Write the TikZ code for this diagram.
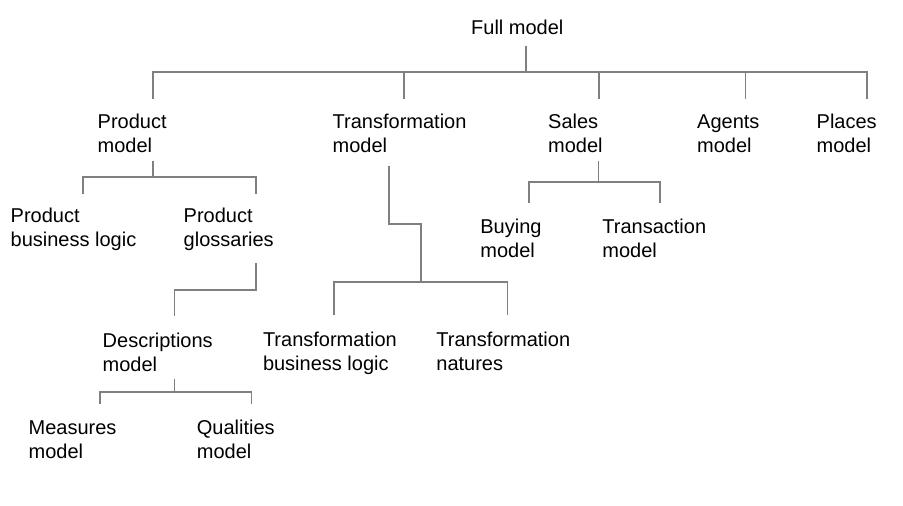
\documentclass[tikz,border=0pt]{standalone}
\usepackage{fontspec}
\setmainfont{Liberation Sans}

\begin{document}
\begin{tikzpicture}[x=1pt, y=-1pt,
          part/.style={anchor=north west, inner sep=0pt, align=left,
                       font=\fontsize{20}{24}\selectfont,
                       execute at begin node={\rule{0pt}{15pt}}},
          link/.style={draw=black!50, line width=1.2pt}
        ]
          \useasboundingbox (0,0) rectangle (903,506);
          % top level
          \node[part] (full)   at (471,19.3)    {Full model};
          \node[part] (prod)   at (97.5,114.3)  {Product\\model};
          \node[part] (trans)  at (332.5,114.3) {Transformation\\model};
          \node[part] (sales)  at (548,114.3)   {Sales\\model};
          \node[part] (agents) at (697,114.3)   {Agents\\model};
          \node[part] (places) at (816.5,114.3) {Places\\model};
          % second level
          \node[part] (pbl)  at (10.5,208.3)  {Product\\business logic};
          \node[part] (pglo) at (183.5,208.3) {Product\\glossaries};
          \node[part] (buy)  at (480.2,218.5) {Buying\\model};
          \node[part] (tx)   at (602.2,218.5) {Transaction\\model};
          \node[part] (desc) at (102.5,333.3) {Descriptions\\model};
          \node[part] (tbl)  at (262.8,332.3) {Transformation\\business logic};
          \node[part] (tn)   at (436.2,332.3) {Transformation\\natures};
          \node[part] (meas) at (28.5,420.3)  {Measures\\model};
          \node[part] (qual) at (196.7,420.3) {Qualities\\model};

          \draw[link] ([xshift=55pt,yshift=-26.7pt]full.north west) -- ++(0,26) -| ([xshift=55.5pt,yshift=15.3pt]prod.north west);
          \draw[link] ([xshift=55pt,yshift=-26.7pt]full.north west) -- ++(0,26) -| ([xshift=71.5pt,yshift=15.3pt]trans.north west);
          \draw[link] ([xshift=55pt,yshift=-26.7pt]full.north west) -- ++(0,26) -| ([xshift=51pt,yshift=15.3pt]sales.north west);
          \draw[link] ([xshift=55pt,yshift=-26.7pt]full.north west) -- ++(0,26) -| ([xshift=48.5pt,yshift=15.3pt]agents.north west);
          \draw[link] ([xshift=55pt,yshift=-26.7pt]full.north west) -- ++(0,26) -| ([xshift=50.5pt,yshift=15.3pt]places.north west);

          \draw[link] ([xshift=55.5pt,yshift=-46.7pt]prod.north west) -- ++(0,16) -| ([xshift=72.5pt,yshift=14.3pt]pbl.north west);
          \draw[link] ([xshift=55.5pt,yshift=-46.7pt]prod.north west) -- ++(0,16) -| ([xshift=72.5pt,yshift=14.3pt]pglo.north west);
          \draw[link] ([xshift=72.5pt,yshift=-54.7pt]pglo.north west) -- ++(0,27) -| ([xshift=72pt,yshift=17.3pt]desc.north west);
          \draw[link] ([xshift=72pt,yshift=-45.7pt]desc.north west) -- ++(0,13) -| ([xshift=71.5pt,yshift=16.3pt]meas.north west);
          \draw[link] ([xshift=72pt,yshift=-45.7pt]desc.north west) -- ++(0,13) -| ([xshift=55pt,yshift=16.3pt]qual.north west);

          \draw[link] ([xshift=56.5pt,yshift=-51.7pt]trans.north west) -- ++(0,58) -- ++(32,0) -- ++(0,58) -| ([xshift=71.2pt,yshift=17.3pt]tbl.north west);
          \draw[link] ([xshift=56.5pt,yshift=-51.7pt]trans.north west) -- ++(0,58) -- ++(32,0) -- ++(0,58) -| ([xshift=71.1pt,yshift=17.3pt]tn.north west);

          \draw[link] ([xshift=50.5pt,yshift=-46.7pt]sales.north west) -- ++(0,21) -| ([xshift=48.8pt,yshift=15.5pt]buy.north west);
          \draw[link] ([xshift=50.5pt,yshift=-46.7pt]sales.north west) -- ++(0,21) -| ([xshift=57.8pt,yshift=15.5pt]tx.north west);
        \end{tikzpicture}
\end{document}
